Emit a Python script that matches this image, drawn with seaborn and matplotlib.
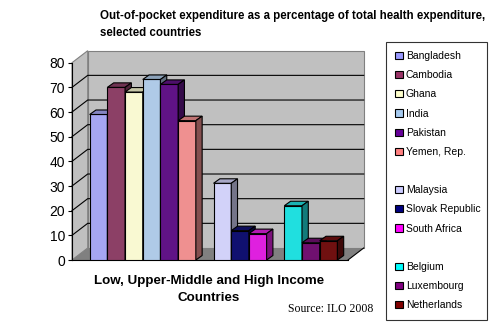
import numpy as np
import pandas as pd
import matplotlib
matplotlib.use("Agg")
import matplotlib.pyplot as plt
from matplotlib.patches import Polygon, Rectangle, Patch
from matplotlib.lines import Line2D
import seaborn as sns

# ---- data ----
low_income = ["Bangladesh", "Cambodia", "Ghana", "India", "Pakistan", "Yemen, Rep."]
low_values = [59.0, 70.0, 68.1, 73.2, 71.2, 56.5]
upper_middle = ["Malaysia", "Slovak Republic", "South Africa"]
upper_middle_values = [31.1, 11.9, 10.7]
high_income = ["Belgium", "Luxembourg", "Netherlands"]
high_values = [22.0, 7.0, 7.8]
colors = ["#9999FF", "#993366", "#FFFFCC", "#A6CAF0", "#660099", "#FF8080",
          "#CCCCFF", "#000080", "#FF00FF",
          "#00FFFF", "#800080", "#800000"]
y_ticks = [0, 10, 20, 30, 40, 50, 60, 70, 80]

countries = low_income + upper_middle + high_income
values = low_values + upper_middle_values + high_values
df = pd.DataFrame({"country": countries, "value": values})
palette = dict(zip(countries, colors))
order = low_income + [" "] + upper_middle + ["  "] + high_income

plt.rcParams["font.family"] = ["Liberation Sans", "DejaVu Sans"]

W, H = 491, 324
fig = plt.figure(figsize=(W / 100, H / 100), dpi=100)
px0, px1, py0, py1 = 72, 348, 260, 62.7
ax = fig.add_axes([px0 / W, 1 - py0 / H, (px1 - px0) / W, (py0 - py1) / H])

sns.barplot(data=df, x="country", y="value", hue="country", order=order,
            palette=palette, width=1.0, edgecolor="black", linewidth=0.8,
            legend=False, ax=ax, errorbar=None)
bars = [p for p in ax.patches if p.get_height() > 0]

xmin, xmax = -1.5, 14.1
ax.set_xlim(xmin, xmax)
ax.set_ylim(0, 80)
ax.patch.set_visible(False)
for s in ["top", "right"]:
    ax.spines[s].set_visible(False)
ax.spines["left"].set_color("black")
ax.spines["bottom"].set_color("black")
ax.spines["left"].set_linewidth(0.8)
ax.spines["bottom"].set_linewidth(0.8)
ax.set_xticks([])
ax.set_yticks(y_ticks)
ax.tick_params(axis="y", length=3, width=0.8, labelsize=10, pad=2)
ax.set_xlabel("")
ax.set_ylabel("")

# pseudo-3D depth (data units)
xu = (px1 - px0) / (xmax - xmin)
yu = (py0 - py1) / 80
dx, dy = 15.7 / xu, 12.0 / yu
bdx, bdy = 6.3 / xu, 4.5 / yu

wall = "#C0C0C0"
ax.add_patch(Rectangle((xmin + dx, dy), xmax - xmin, 80, facecolor=wall,
                       edgecolor="#808080", lw=0.8, zorder=0.2, clip_on=False))
ax.add_patch(Polygon([(xmin, 0), (xmin, 80), (xmin + dx, 80 + dy), (xmin + dx, dy)],
                     closed=True, facecolor=wall, edgecolor="#808080", lw=0.8,
                     zorder=0.3, clip_on=False))
ax.add_patch(Polygon([(xmin, 0), (xmax, 0), (xmax + dx, dy), (xmin + dx, dy)],
                     closed=True, facecolor="#808080", edgecolor="none",
                     zorder=0.4, clip_on=False))
ax.add_line(Line2D([xmax, xmax + dx], [0, dy], color="black", lw=0.8,
                   zorder=0.5, clip_on=False))
for v in y_ticks[1:-1]:
    ax.add_line(Line2D([xmin, xmin + dx, xmax + dx], [v, v + dy, v + dy],
                       color="black", lw=0.8, zorder=0.5, clip_on=False))


def shade(c, f):
    c = np.array(matplotlib.colors.to_rgb(c))
    return tuple(c * f)


bars.sort(key=lambda p: p.get_x())
for i, p in enumerate(bars):
    x0, w, h = p.get_x(), p.get_width(), p.get_height()
    fc = p.get_facecolor()[:3]
    z = 10 + 3 * i
    p.set_zorder(z)
    top = Polygon([(x0, h), (x0 + w, h), (x0 + w + bdx, h + bdy), (x0 + bdx, h + bdy)],
                  closed=True, facecolor=shade(fc, 0.8), edgecolor="black",
                  lw=0.8, zorder=z + 1, clip_on=False)
    side = Polygon([(x0 + w, 0), (x0 + w, h), (x0 + w + bdx, h + bdy), (x0 + w + bdx, bdy)],
                   closed=True, facecolor=shade(fc, 0.55), edgecolor="black",
                   lw=0.8, zorder=z + 1, clip_on=False)
    ax.add_patch(top)
    ax.add_patch(side)

# ---- texts ----
fig.text(100 / W, 1 - 10 / H,
         "Out-of-pocket expenditure as a percentage of total health expenditure,\nselected countries",
         ha="left", va="top", fontsize=8.3, fontweight="bold", linespacing=1.55)
fig.text(209 / W, 1 - 289.5 / H, "Low, Upper-Middle and High Income\nCountries",
         ha="center", va="center", fontsize=9.6, fontweight="bold", linespacing=1.45)
fig.text(288 / W, 1 - 309 / H, "Source: ILO 2008", ha="left", va="center",
         fontsize=8.5, family=["Liberation Serif", "DejaVu Serif"])

# ---- legend ----
handles, labels = [], []
groups = [low_income, upper_middle, high_income]
for gi, g in enumerate(groups):
    for c in g:
        handles.append(Patch(facecolor=palette[c], edgecolor="black", lw=0.8))
        labels.append(c)
    if gi < len(groups) - 1:
        handles.append(Patch(facecolor="none", edgecolor="none"))
        labels.append("")
leg = fig.legend(handles, labels, loc="upper left",
                 bbox_to_anchor=(386 / W, 1 - 45 / H, 101 / W, 0.01), mode="expand",
                 borderaxespad=0, fontsize=7.5, handlelength=0.7, handleheight=0.7,
                 handletextpad=0.3, labelspacing=0.88, borderpad=0.9,
                 fancybox=False, frameon=True)
leg.get_frame().set_edgecolor("black")
leg.get_frame().set_linewidth(0.8)

fig.savefig("out.png", dpi=100)
